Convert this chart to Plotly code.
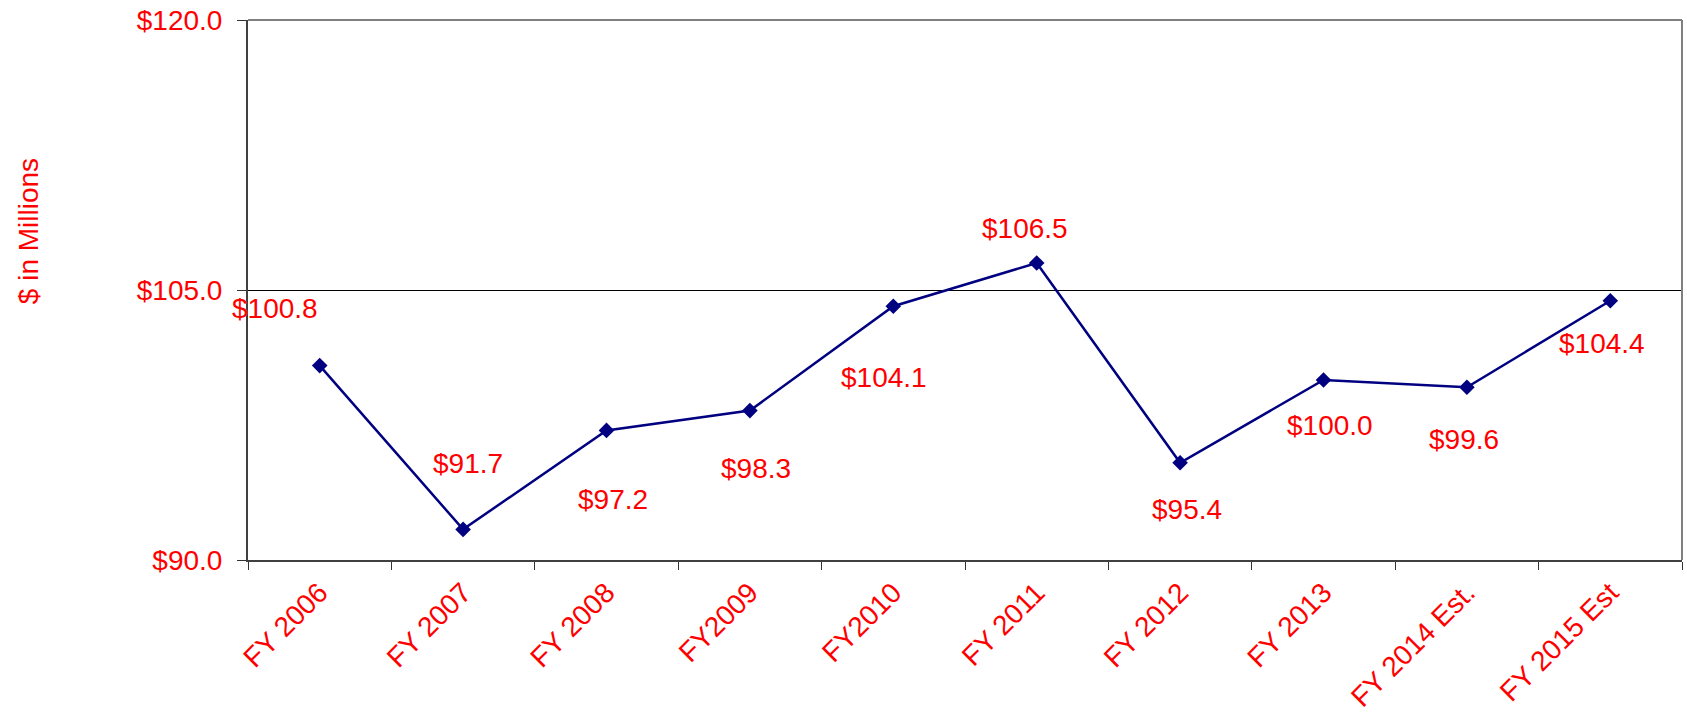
import plotly.graph_objects as go

# Data ($ in millions)
fiscal_years = [
    "FY 2006", "FY 2007", "FY 2008", "FY2009", "FY2010",
    "FY 2011", "FY 2012", "FY 2013", "FY 2014 Est.", "FY 2015 Est",
]
amounts = [100.8, 91.7, 97.2, 98.3, 104.1, 106.5, 95.4, 100.0, 99.6, 104.4]
y_ticks = [90, 105, 120]
y_tick_labels = ["$90.0", "$105.0", "$120.0"]

# Label offsets in pixels (dx, dy downward), placed by hand like in the source
label_offsets = [
    (-45, -57), (5, -66), (6, 69), (6, 58), (-9, 71),
    (-12, -35), (7, 47), (6, 45), (-3, 52), (-8, 43),
]

FONT = "Liberation Sans"
RED = "#ff0000"
NAVY = "#000080"

fig = go.Figure()
fig.add_trace(
    go.Scatter(
        x=fiscal_years,
        y=amounts,
        mode="lines+markers",
        line=dict(color=NAVY, width=2.5),
        marker=dict(symbol="diamond", size=12, color=NAVY),
        hoverinfo="x+y",
        showlegend=False,
    )
)

# Data labels
for year, val, (dx, dy) in zip(fiscal_years, amounts, label_offsets):
    fig.add_annotation(
        x=year,
        y=val,
        text=f"${val:.1f}",
        showarrow=False,
        xshift=dx,
        yshift=-dy,
        font=dict(family=FONT, size=28, color=RED),
    )

# Y axis title
fig.add_annotation(
    xref="paper",
    yref="paper",
    x=-0.1534,
    y=0.609,
    xanchor="center",
    yanchor="middle",
    text="$ in Millions",
    textangle=-90,
    showarrow=False,
    font=dict(family=FONT, size=28, color=RED),
)

# gray top / right frame
fig.add_shape(type="line", xref="paper", yref="paper", x0=0, x1=1, y0=1, y1=1,
              line=dict(color="#808080", width=2), layer="above")
fig.add_shape(type="line", xref="paper", yref="paper", x0=1, x1=1, y0=0, y1=1,
              line=dict(color="#808080", width=2), layer="above")

fig.update_xaxes(
    type="category",
    range=[-0.5, len(fiscal_years) - 0.5],
    tickson="boundaries",
    ticks="outside",
    ticklen=8,
    tickcolor="#333333",
    tickwidth=1,
    tickangle=-45,
    ticklabelstandoff=3,
    tickfont=dict(family=FONT, size=28, color=RED),
    showline=True,
    linecolor="#404040",
    linewidth=2,
    showgrid=False,
    automargin=False,
)
fig.update_yaxes(
    range=[90, 120],
    tickvals=y_ticks,
    ticktext=y_tick_labels,
    ticks="outside",
    ticklen=9,
    tickcolor="#333333",
    tickwidth=1,
    ticklabelstandoff=9,
    tickfont=dict(family=FONT, size=28, color=RED),
    showline=True,
    linecolor="#404040",
    linewidth=2,
    showgrid=True,
    gridcolor="#000000",
    gridwidth=1,
    zeroline=False,
    automargin=False,
)

fig.update_layout(
    width=1687,
    height=717,
    margin=dict(l=248, r=5, t=20, b=157),
    plot_bgcolor="white",
    paper_bgcolor="white",
    font=dict(family=FONT),
)

# drop the default page margin so the figure fills the window exactly
fig.write_html(
    "out.html",
    config={"displayModeBar": False},
    post_script="document.body.style.margin='0';document.body.style.overflow='hidden';",
)
